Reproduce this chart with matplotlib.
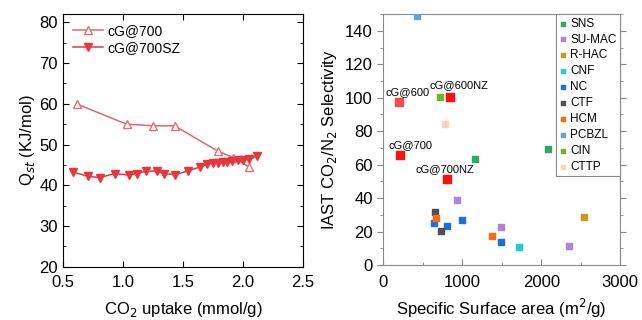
import matplotlib.pyplot as plt
from matplotlib.ticker import MultipleLocator

plt.rcParams['font.family'] = ['Liberation Sans', 'DejaVu Sans']

# left panel: isosteric heat of adsorption
cg700_x = [0.62, 1.03, 1.25, 1.43, 1.79, 1.92, 2.05]
cg700_y = [59.9, 55.0, 54.6, 54.6, 48.4, 46.8, 44.5]

cg700sz_x = [0.58, 0.71, 0.81, 0.93, 1.05, 1.12, 1.19, 1.28, 1.34, 1.43, 1.54,
             1.64, 1.70, 1.75, 1.79, 1.83, 1.87, 1.91, 1.96, 2.00, 2.05, 2.12]
cg700sz_y = [43.3, 42.2, 41.9, 42.9, 42.5, 42.9, 43.5, 43.5, 42.9, 42.6, 43.5,
             44.5, 45.2, 45.5, 45.5, 45.6, 45.7, 45.9, 46.1, 46.2, 46.4, 47.2]

# right panel: selectivity vs surface area
ours_labels = ['cG@600', 'cG@600NZ', 'cG@700', 'cG@700NZ']
ours_x = [199, 845, 207, 811]
ours_y = [97.4, 100.2, 65.8, 51.4]

groups = ['SNS', 'SU-MAC', 'R-HAC', 'CNF', 'NC', 'CTF', 'HCM', 'PCBZL', 'CIN', 'CTTP']
group_x = {
    'SNS': [1166, 2091],
    'SU-MAC': [938, 1496, 2358],
    'R-HAC': [2540],
    'CNF': [1724],
    'NC': [643, 803, 997, 1496],
    'CTF': [655, 735],
    'HCM': [664, 1382],
    'PCBZL': [423],
    'CIN': [714],
    'CTTP': [778],
}
group_y = {
    'SNS': [63.4, 69.4],
    'SU-MAC': [39.0, 22.4, 11.4],
    'R-HAC': [28.4],
    'CNF': [10.6],
    'NC': [25.2, 23.2, 26.6, 13.6],
    'CTF': [31.6, 20.4],
    'HCM': [28.2, 17.6],
    'PCBZL': [148.6],
    'CIN': [100.4],
    'CTTP': [84.2],
}
colors = {
    'SNS': '#2fa866', 'SU-MAC': '#b07fe0', 'R-HAC': '#c99a12', 'CNF': '#1fcfd0',
    'NC': '#1f6fe0', 'CTF': '#505050', 'HCM': '#ff6a10', 'PCBZL': '#6a9fd8',
    'CIN': '#6cb824', 'CTTP': '#fdd2b4',
}

fig = plt.figure(figsize=(6.42, 3.2), dpi=100)

ax1 = fig.add_axes([0.098, 0.166, 0.374, 0.79])
ax1.plot(cg700_x, cg700_y, '-^', color='#e06868', mfc='white', mec='#e07070',
         ms=5.5, lw=1.1, label='cG@700')
ax1.plot(cg700sz_x, cg700sz_y, '-v', color='#e8363c', ms=5.5, lw=1.1, label='cG@700SZ')
ax1.set_xlim(0.5, 2.5)
ax1.set_ylim(20, 82)
ax1.xaxis.set_major_locator(MultipleLocator(0.5))
ax1.yaxis.set_major_locator(MultipleLocator(10))
ax1.yaxis.set_minor_locator(MultipleLocator(5))
ax1.tick_params(which='both', direction='in', top=True, right=True, labelsize=12)
ax1.tick_params(axis='x', pad=6)
ax1.tick_params(which='major', length=4)
ax1.tick_params(which='minor', length=2.5)
ax1.set_xlabel('CO$_2$ uptake (mmol/g)', fontsize=12, labelpad=7)
ax1.set_ylabel('Q$_{st}$ (KJ/mol)', fontsize=12, labelpad=2)
ax1.legend(loc='upper left', frameon=False, fontsize=10, handlelength=2.2,
           borderaxespad=0.3, labelspacing=0.2, handletextpad=0.3)

ax2 = fig.add_axes([0.597, 0.172, 0.369, 0.784])
for lab, x, y in zip(ours_labels, ours_x, ours_y):
    c = '#f04c50' if lab == 'cG@600' else '#ff1010'
    ax2.scatter([x], [y], marker='s', s=34, color=c, zorder=3)
ax2.annotate('cG@600', (ours_x[0], ours_y[0]), xytext=(-10, 5),
             textcoords='offset points', fontsize=8)
ax2.annotate('cG@600NZ', (ours_x[1], ours_y[1]), xytext=(-15, 7),
             textcoords='offset points', fontsize=8)
ax2.annotate('cG@700', (ours_x[2], ours_y[2]), xytext=(-8, 5),
             textcoords='offset points', fontsize=8)
ax2.annotate('cG@700NZ', (ours_x[3], ours_y[3]), xytext=(-23, 5),
             textcoords='offset points', fontsize=8)
for g in groups:
    ax2.scatter(group_x[g], group_y[g], marker='s', s=24, color=colors[g],
                label=g, zorder=3)
ax2.set_xlim(0, 3000)
ax2.set_ylim(0, 150)
ax2.xaxis.set_major_locator(MultipleLocator(1000))
ax2.xaxis.set_minor_locator(MultipleLocator(500))
ax2.yaxis.set_major_locator(MultipleLocator(20))
ax2.yaxis.set_minor_locator(MultipleLocator(10))
for s in ax2.spines.values():
    s.set_color('#888888')
ax2.tick_params(which='both', colors='#888888', labelcolor='black', labelsize=12)
ax2.tick_params(axis='y', which='both', direction='out', right=True)
ax2.tick_params(axis='x', which='both', direction='in', pad=7)
ax2.tick_params(which='major', length=4)
ax2.tick_params(which='minor', length=2.5)
ax2.set_xlabel('Specific Surface area (m$^2$/g)', fontsize=12, labelpad=5)
ax2.set_ylabel('IAST CO$_2$/N$_2$ Selectivity', fontsize=12, labelpad=4)
leg = ax2.legend(loc='upper right', fontsize=8.5, markerscale=0.7, handlelength=0.6,
                 handletextpad=0.3, labelspacing=0.33, borderaxespad=0,
                 borderpad=0.3, fancybox=False, framealpha=1)
leg.get_frame().set_edgecolor('#888888')
leg.get_frame().set_linewidth(0.8)

fig.savefig('out.png', dpi=100)
